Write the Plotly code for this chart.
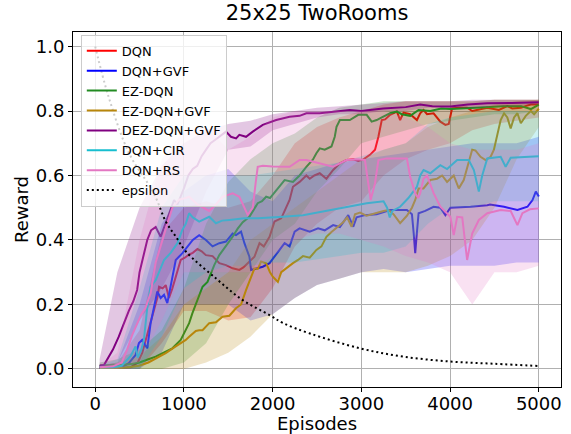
import plotly.graph_objects as go

# ---------------- data ----------------
dqn_x = [50, 200, 300, 400, 480, 530, 570, 606, 643, 700, 720, 760, 795, 832, 870, 908, 964, 1010, 1059, 1100, 1153, 1200, 1248, 1323, 1360, 1399, 1474, 1549, 1625, 1670, 1719, 1795, 1852, 1900, 1965, 2021, 2097, 2154, 2191, 2229, 2304, 2380, 2418, 2470, 2531, 2606, 2682, 2758, 2833, 2909, 2966, 3023, 3097, 3154, 3192, 3230, 3268, 3324, 3400, 3437, 3475, 3550, 3626, 3663, 3701, 3740, 3814, 3890, 3947, 3985, 4022, 4100, 4192, 4250, 4324, 4419, 4550, 4645, 4700, 4797, 4850, 4910, 5000]
dqn_y = [0.003, 0.002, 0.003, 0.005, 0.02, 0.05, 0.09, 0.13, 0.16, 0.22, 0.255, 0.25, 0.26, 0.22, 0.25, 0.286, 0.338, 0.345, 0.355, 0.36, 0.372, 0.365, 0.353, 0.35, 0.34, 0.328, 0.322, 0.312, 0.307, 0.315, 0.328, 0.348, 0.39, 0.38, 0.41, 0.457, 0.467, 0.503, 0.524, 0.565, 0.58, 0.60, 0.59, 0.60, 0.607, 0.59, 0.617, 0.638, 0.648, 0.65, 0.645, 0.65, 0.664, 0.68, 0.72, 0.772, 0.774, 0.788, 0.798, 0.772, 0.795, 0.79, 0.772, 0.793, 0.803, 0.79, 0.793, 0.767, 0.757, 0.76, 0.808, 0.81, 0.81, 0.80, 0.805, 0.81, 0.803, 0.815, 0.808, 0.81, 0.815, 0.82, 0.82]

gvf_x = [50, 200, 300, 379, 455, 493, 530, 560, 587, 625, 682, 700, 738, 776, 813, 840, 870, 908, 983, 1059, 1100, 1172, 1248, 1323, 1399, 1474, 1549, 1587, 1644, 1682, 1738, 1757, 1814, 1889, 1965, 2021, 2078, 2135, 2191, 2248, 2304, 2418, 2512, 2587, 2682, 2758, 2852, 2909, 2946, 3040, 3173, 3324, 3513, 3570, 3590, 3607, 3625, 3645, 3720, 3814, 3890, 3947, 4003, 4230, 4419, 4450, 4608, 4759, 4872, 4929, 4966, 5000]
gvf_y = [0.003, 0.003, 0.005, 0.018, 0.043, 0.08, 0.09, 0.075, 0.064, 0.142, 0.22, 0.24, 0.22, 0.23, 0.204, 0.24, 0.276, 0.338, 0.359, 0.385, 0.40, 0.415, 0.40, 0.38, 0.39, 0.395, 0.42, 0.415, 0.426, 0.39, 0.348, 0.307, 0.312, 0.317, 0.328, 0.348, 0.369, 0.39, 0.38, 0.426, 0.436, 0.426, 0.436, 0.43, 0.446, 0.44, 0.477, 0.441, 0.47, 0.477, 0.48, 0.493, 0.493, 0.48, 0.42, 0.359, 0.42, 0.483, 0.49, 0.503, 0.50, 0.477, 0.50, 0.503, 0.508, 0.51, 0.503, 0.493, 0.503, 0.524, 0.55, 0.535]

ez_x = [50, 200, 300, 400, 500, 600, 682, 795, 870, 964, 1021, 1059, 1096, 1134, 1210, 1266, 1342, 1399, 1474, 1549, 1606, 1663, 1738, 1790, 1832, 1880, 1927, 1970, 2040, 2135, 2229, 2304, 2380, 2455, 2493, 2531, 2587, 2663, 2700, 2720, 2758, 2870, 2965, 3060, 3116, 3173, 3230, 3324, 3400, 3456, 3550, 3645, 3777, 3900, 4003, 4200, 4400, 4600, 4800, 4910, 5000]
ez_y = [0.01, 0.01, 0.012, 0.015, 0.02, 0.03, 0.038, 0.054, 0.064, 0.09, 0.12, 0.142, 0.173, 0.20, 0.255, 0.27, 0.322, 0.353, 0.38, 0.41, 0.435, 0.455, 0.472, 0.495, 0.514, 0.52, 0.534, 0.53, 0.555, 0.586, 0.58, 0.60, 0.627, 0.65, 0.669, 0.684, 0.68, 0.69, 0.72, 0.751, 0.772, 0.772, 0.788, 0.788, 0.767, 0.772, 0.78, 0.793, 0.798, 0.79, 0.785, 0.803, 0.80, 0.808, 0.806, 0.81, 0.812, 0.815, 0.815, 0.806, 0.82]

ezgvf_x = [50, 200, 300, 400, 493, 600, 682, 795, 908, 1021, 1059, 1096, 1134, 1172, 1210, 1285, 1360, 1436, 1512, 1587, 1644, 1701, 1757, 1795, 1832, 1870, 1927, 1970, 2002, 2059, 2097, 2172, 2229, 2286, 2342, 2418, 2493, 2550, 2606, 2663, 2739, 2795, 2840, 2890, 2928, 2985, 3060, 3173, 3250, 3305, 3362, 3437, 3513, 3570, 3607, 3645, 3700, 3777, 3853, 3910, 3966, 4041, 4098, 4154, 4211, 4249, 4287, 4343, 4400, 4457, 4494, 4532, 4570, 4608, 4645, 4683, 4721, 4759, 4797, 4853, 4910, 4947, 5000]
ezgvf_y = [0.003, 0.003, 0.004, 0.006, 0.01, 0.02, 0.033, 0.049, 0.07, 0.09, 0.10, 0.11, 0.118, 0.12, 0.12, 0.142, 0.145, 0.162, 0.165, 0.188, 0.20, 0.245, 0.286, 0.312, 0.31, 0.333, 0.328, 0.30, 0.286, 0.27, 0.30, 0.317, 0.328, 0.338, 0.35, 0.345, 0.369, 0.38, 0.41, 0.425, 0.441, 0.455, 0.47, 0.441, 0.48, 0.485, 0.475, 0.485, 0.49, 0.493, 0.48, 0.452, 0.475, 0.50, 0.524, 0.56, 0.56, 0.586, 0.59, 0.60, 0.58, 0.60, 0.56, 0.586, 0.643, 0.68, 0.677, 0.658, 0.648, 0.658, 0.68, 0.73, 0.772, 0.793, 0.78, 0.746, 0.78, 0.793, 0.762, 0.785, 0.80, 0.79, 0.807]

dez_x = [50, 100, 153, 200, 266, 320, 379, 430, 473, 500, 530, 587, 630, 682, 738, 813, 889, 927, 964, 1000, 1050, 1100, 1150, 1200, 1250, 1300, 1350, 1400, 1474, 1530, 1588, 1625, 1700, 1776, 1889, 2040, 2191, 2304, 2380, 2531, 2680, 2870, 3000, 3245, 3500, 3663, 3800, 4003, 4200, 4419, 4700, 5000]
dez_y = [0.01, 0.012, 0.038, 0.06, 0.10, 0.14, 0.18, 0.21, 0.245, 0.30, 0.338, 0.40, 0.43, 0.44, 0.41, 0.47, 0.524, 0.51, 0.534, 0.56, 0.60, 0.62, 0.63, 0.66, 0.68, 0.70, 0.71, 0.72, 0.736, 0.72, 0.715, 0.726, 0.72, 0.736, 0.757, 0.772, 0.782, 0.785, 0.793, 0.793, 0.798, 0.803, 0.80, 0.808, 0.812, 0.82, 0.815, 0.814, 0.82, 0.824, 0.825, 0.827]

cir_x = [50, 200, 300, 342, 400, 455, 480, 520, 549, 587, 625, 682, 730, 776, 851, 927, 980, 1021, 1059, 1100, 1172, 1285, 1361, 1430, 1512, 1600, 1682, 1833, 1950, 2115, 2342, 2500, 2680, 2900, 3060, 3250, 3290, 3320, 3350, 3437, 3530, 3626, 3663, 3701, 3777, 3890, 3966, 4080, 4210, 4268, 4300, 4324, 4362, 4419, 4570, 4626, 4683, 4872, 5000]
cir_y = [0.005, 0.005, 0.01, 0.023, 0.04, 0.07, 0.035, 0.06, 0.09, 0.19, 0.255, 0.275, 0.31, 0.338, 0.36, 0.39, 0.43, 0.45, 0.483, 0.47, 0.457, 0.472, 0.452, 0.46, 0.462, 0.465, 0.467, 0.467, 0.47, 0.472, 0.477, 0.485, 0.493, 0.505, 0.514, 0.52, 0.50, 0.47, 0.49, 0.503, 0.53, 0.565, 0.60, 0.617, 0.607, 0.632, 0.62, 0.648, 0.648, 0.617, 0.58, 0.55, 0.60, 0.653, 0.658, 0.627, 0.655, 0.658, 0.66]

rs_x = [50, 200, 300, 360, 417, 473, 520, 568, 625, 682, 755, 813, 870, 945, 1020, 1059, 1150, 1285, 1360, 1436, 1549, 1625, 1719, 1776, 1810, 1832, 1889, 2000, 2191, 2304, 2380, 2531, 2680, 2833, 2950, 3040, 3078, 3105, 3154, 3192, 3286, 3513, 3550, 3607, 3640, 3663, 3700, 3740, 3814, 3890, 4003, 4041, 4080, 4137, 4192, 4249, 4324, 4419, 4570, 4683, 4759, 4815, 4900, 5000]
rs_y = [0.005, 0.008, 0.02, 0.06, 0.105, 0.14, 0.17, 0.19, 0.235, 0.33, 0.40, 0.45, 0.50, 0.525, 0.53, 0.534, 0.51, 0.49, 0.51, 0.534, 0.545, 0.534, 0.478, 0.50, 0.58, 0.627, 0.63, 0.628, 0.627, 0.648, 0.648, 0.638, 0.627, 0.648, 0.65, 0.648, 0.565, 0.524, 0.576, 0.648, 0.653, 0.653, 0.596, 0.545, 0.53, 0.545, 0.59, 0.60, 0.545, 0.503, 0.472, 0.415, 0.472, 0.47, 0.338, 0.42, 0.462, 0.483, 0.493, 0.49, 0.446, 0.483, 0.495, 0.498]

eps_x = [0, 150, 380, 660, 800, 910, 1020, 1360, 1660, 1965, 2120, 2420, 2985, 3475, 4000, 4500, 5000]
eps_y = [1.0, 0.845, 0.67, 0.545, 0.455, 0.41, 0.365, 0.281, 0.214, 0.167, 0.142, 0.11, 0.064, 0.038, 0.023, 0.016, 0.009]

band_x = [50, 250, 500, 750, 1000, 1250, 1500, 1750, 2000, 2250, 2500, 2750, 3000, 3250, 3500, 3750, 4000, 4250, 4500, 4750, 5000]
dqn_lo = [0, 0, 0.0, 0.08, 0.18, 0.18, 0.15, 0.16, 0.25, 0.38, 0.45, 0.5, 0.52, 0.6, 0.65, 0.68, 0.7, 0.74, 0.76, 0.77, 0.78]
dqn_hi = [0.01, 0.02, 0.12, 0.42, 0.5, 0.52, 0.5, 0.52, 0.6, 0.7, 0.75, 0.78, 0.8, 0.82, 0.83, 0.83, 0.83, 0.83, 0.835, 0.835, 0.835]
gvf_lo = [0, 0, 0.0, 0.05, 0.2, 0.2, 0.2, 0.15, 0.17, 0.22, 0.26, 0.28, 0.3, 0.31, 0.3, 0.31, 0.32, 0.32, 0.32, 0.33, 0.33]
gvf_hi = [0.01, 0.02, 0.2, 0.45, 0.55, 0.6, 0.62, 0.55, 0.52, 0.6, 0.62, 0.64, 0.65, 0.66, 0.67, 0.68, 0.69, 0.7, 0.7, 0.7, 0.72]
ez_lo = [0, 0, 0, 0.0, 0.02, 0.08, 0.2, 0.3, 0.4, 0.45, 0.55, 0.62, 0.7, 0.72, 0.74, 0.76, 0.77, 0.78, 0.79, 0.79, 0.8]
ez_hi = [0.02, 0.03, 0.06, 0.12, 0.25, 0.45, 0.58, 0.65, 0.7, 0.73, 0.78, 0.81, 0.82, 0.83, 0.83, 0.83, 0.83, 0.83, 0.835, 0.835, 0.835]
ezgvf_lo = [0, 0, 0, 0, 0.0, 0.02, 0.05, 0.1, 0.17, 0.22, 0.26, 0.28, 0.3, 0.3, 0.3, 0.32, 0.35, 0.4, 0.5, 0.65, 0.75]
ezgvf_hi = [0.01, 0.02, 0.04, 0.1, 0.2, 0.25, 0.3, 0.4, 0.45, 0.5, 0.55, 0.6, 0.65, 0.68, 0.7, 0.75, 0.78, 0.8, 0.82, 0.83, 0.835]
dez_lo = [0, 0.02, 0.15, 0.25, 0.38, 0.55, 0.68, 0.69, 0.74, 0.76, 0.78, 0.79, 0.79, 0.8, 0.8, 0.81, 0.81, 0.81, 0.815, 0.815, 0.82]
dez_hi = [0.03, 0.3, 0.5, 0.63, 0.7, 0.74, 0.76, 0.77, 0.79, 0.8, 0.81, 0.815, 0.82, 0.825, 0.83, 0.83, 0.83, 0.835, 0.835, 0.835, 0.835]
cir_lo = [0, 0, 0.0, 0.1, 0.25, 0.3, 0.32, 0.32, 0.33, 0.33, 0.34, 0.35, 0.36, 0.36, 0.38, 0.45, 0.5, 0.5, 0.52, 0.52, 0.52]
cir_hi = [0.01, 0.03, 0.25, 0.5, 0.6, 0.6, 0.6, 0.6, 0.61, 0.62, 0.63, 0.64, 0.66, 0.68, 0.7, 0.76, 0.78, 0.79, 0.8, 0.8, 0.8]
rs_lo = [0, 0, 0.02, 0.15, 0.3, 0.3, 0.3, 0.3, 0.35, 0.4, 0.42, 0.42, 0.4, 0.38, 0.35, 0.33, 0.3, 0.2, 0.3, 0.3, 0.32]
rs_hi = [0.01, 0.05, 0.4, 0.65, 0.74, 0.75, 0.68, 0.72, 0.78, 0.8, 0.8, 0.8, 0.8, 0.8, 0.78, 0.75, 0.7, 0.68, 0.68, 0.68, 0.7]

x_ticks = [0, 1000, 2000, 3000, 4000, 5000]
y_ticks = [0.0, 0.2, 0.4, 0.6, 0.8, 1.0]
y_tick_text = ["0.0", "0.2", "0.4", "0.6", "0.8", "1.0"]

series = [
    ("DQN", dqn_x, dqn_y, dqn_lo, dqn_hi, (255, 0, 0)),
    ("DQN+GVF", gvf_x, gvf_y, gvf_lo, gvf_hi, (0, 0, 255)),
    ("EZ-DQN", ez_x, ez_y, ez_lo, ez_hi, (34, 139, 34)),
    ("EZ-DQN+GVF", ezgvf_x, ezgvf_y, ezgvf_lo, ezgvf_hi, (184, 134, 11)),
    ("DEZ-DQN+GVF", dez_x, dez_y, dez_lo, dez_hi, (128, 0, 128)),
    ("DQN+CIR", cir_x, cir_y, cir_lo, cir_hi, (23, 190, 207)),
    ("DQN+RS", rs_x, rs_y, rs_lo, rs_hi, (227, 119, 194)),
]

FONT = "DejaVu Sans"
fig = go.Figure()
for name, xs, ys, lo, hi, c in series:
    rgb = "rgb(%d,%d,%d)" % c
    fill = "rgba(%d,%d,%d,0.22)" % c
    fig.add_trace(go.Scatter(x=band_x, y=lo, mode="lines", line=dict(width=0, color=rgb),
                             showlegend=False, hoverinfo="skip"))
    fig.add_trace(go.Scatter(x=band_x, y=hi, mode="lines", line=dict(width=0, color=rgb),
                             fill="tonexty", fillcolor=fill, showlegend=False, hoverinfo="skip"))
    fig.add_trace(go.Scatter(x=xs, y=ys, mode="lines", name=name, line=dict(color=rgb, width=2)))

fig.add_trace(go.Scatter(x=eps_x, y=eps_y, mode="lines", name="epsilon",
                         line=dict(color="black", width=2, dash="2px,3px", shape="spline")))

fig.update_layout(
    width=571, height=434,
    margin=dict(l=73, r=10, t=32, b=47, autoexpand=False),
    paper_bgcolor="white", plot_bgcolor="white",
    font=dict(family=FONT, size=18, color="black"),
    title=dict(text="25x25 TwoRooms", x=0.5, xref="paper", y=1 - 13 / 434, yref="container",
               yanchor="middle", xanchor="center", font=dict(size=21, family=FONT, color="black")),
    legend=dict(x=0.016, y=0.992, xanchor="left", yanchor="top", traceorder="normal",
                bgcolor="rgba(255,255,255,0.8)", bordercolor="#cccccc", borderwidth=1,
                font=dict(size=13, family=FONT, color="black"), tracegroupgap=0),
    showlegend=True,
)
fig.update_xaxes(range=[-250, 5250], tickvals=x_ticks, ticks="outside", ticklen=4, tickcolor="black",
                 showline=True, mirror=True, linecolor="black", linewidth=1, automargin=False,
                 ticklabelstandoff=-4,
                 showgrid=True, gridcolor="#b0b0b0", gridwidth=1, zeroline=False,
                 title=dict(text="Episodes", standoff=0, font=dict(size=18)))
fig.update_yaxes(range=[-0.056, 1.045], tickvals=y_ticks, ticktext=y_tick_text, ticks="outside", ticklen=4,
                 tickcolor="black", showline=True, mirror=True, linecolor="black", linewidth=1, automargin=False,
                 showgrid=True, gridcolor="#b0b0b0", gridwidth=1, zeroline=False,
                 title=dict(text="Reward", standoff=2, font=dict(size=18)))

fig.write_html("out.html", config={"displayModeBar": False},
               post_script="document.body.style.margin='0';document.body.style.padding='0';")
